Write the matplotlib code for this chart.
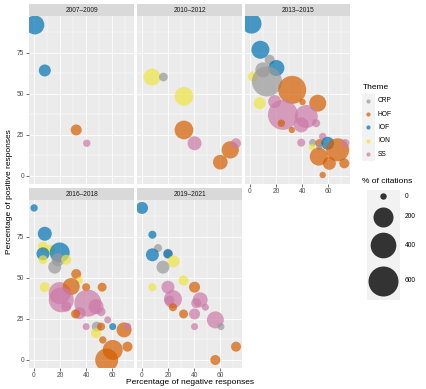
import numpy as np
import matplotlib
matplotlib.use("Agg")
import matplotlib.pyplot as plt
from matplotlib.patches import Rectangle

plt.rcParams['font.family'] = ['Liberation Sans', 'DejaVu Sans']

# ---------------- data ----------------
periods = ["2007–2009", "2010–2012", "2013–2015", "2016–2018", "2019–2021"]
themes = ["CRP", "HOF", "IOF", "ION", "SS"]
theme_colors = ["#999999", "#D55E00", "#0072B2", "#F0E442", "#CC79A7"]
size_breaks = [0, 200, 400, 600]

theme_0709 = ["IOF", "IOF", "HOF", "SS"]
neg_0709 = [0.8, 8.4, 32.4, 40.5]
pos_0709 = [91.9, 64.2, 28, 19.9]
cit_0709 = [171, 34, 23, 1]

theme_1012 = ["ION", "CRP", "ION", "HOF", "SS", "HOF", "HOF", "SS"]
neg_1012 = [7.8, 16.5, 32.2, 32.2, 40.3, 60, 67.6, 72]
pos_1012 = [60.2, 60.2, 48.4, 28, 19.9, 8.4, 15.9, 19.9]
cit_1012 = [121, 6, 163, 163, 62, 74, 128, 14]

theme_1315 = ["IOF", "IOF", "CRP", "IOF", "ION", "CRP", "CRP", "HOF", "ION", "HOF",
              "SS", "SS", "SS", "SS", "SS", "HOF", "HOF", "SS", "CRP", "SS",
              "ION", "HOF", "IOF", "CRP", "HOF", "HOF", "HOF", "HOF", "HOF", "SS", "HOF"]
neg_1315 = [1.3, 8.1, 15.2, 20.3, 2.5, 10, 13.1, 32.4, 7.6, 51.9,
            19, 25.3, 43.1, 39.3, 50.7, 32.1, 24.1, 39.3, 48.1, 55.7,
            47.6, 53.2, 59.5, 53.2, 67.1, 52.7, 60.8, 55.7, 72.2, 73, 40.3]
pos_1315 = [92.7, 76.8, 70.7, 65.7, 60.5, 64.6, 57.5, 52.4, 44.3, 44.3,
            45.3, 37.2, 36.2, 31.1, 32.1, 28, 32.1, 20.3, 20.3, 24,
            17.5, 20, 19.9, 17.9, 15.9, 11.8, 7.7, 0.6, 7.7, 20, 45]
cit_1315 = [199, 145, 14, 100, 14, 80, 600, 503, 34, 121,
            47, 600, 297, 80, 3, 0, 1, 3, 1, 1,
            0, 3, 47, 0, 297, 145, 47, 0, 14, 3, 0]

theme_1618 = ["IOF", "IOF", "ION", "ION", "IOF", "ION", "IOF", "CRP", "ION", "CRP",
              "ION", "HOF", "ION", "SS", "HOF", "SS", "SS", "HOF", "HOF", "SS",
              "SS", "HOF", "SS", "SS", "SS", "CRP", "ION", "HOF", "SS", "IOF",
              "HOF", "SS", "HOF", "HOF", "HOF", "HOF"]
neg_1618 = [0.2, 8.4, 7, 12.2, 7, 7, 19.8, 18.5, 24.8, 16,
            8.4, 32.4, 34.9, 19.8, 28.6, 21, 24.8, 40, 52.2, 41.3,
            35, 31.9, 47.6, 51.4, 40, 48.1, 47.6, 51.4, 56.5, 60.3,
            69, 71.6, 60.3, 55.7, 71.6, 52.7]
pos_1618 = [92.5, 76.8, 69, 67, 64.6, 61, 65.4, 61, 61, 56.5,
            44.3, 52.3, 48.5, 40.7, 44.7, 36.6, 32.5, 44.3, 44.3, 34.6,
            28.5, 28, 32.5, 29.4, 20.3, 20.3, 16.3, 20.3, 24.4, 20.3,
            18.3, 20.3, 6.1, 0, 8.1, 12.2]
cit_1618 = [1, 62, 14, 14, 47, 7, 199, 47, 14, 47,
            14, 14, 0.4, 262, 121, 373, 14, 3, 7, 457,
            34, 7, 80, 7, 0.4, 14, 14, 3, 0.4, 0.4,
            80, 1, 199, 297, 14, 1]

theme_1921 = ["IOF", "IOF", "CRP", "IOF", "CRP", "IOF", "ION", "CRP", "ION", "ION",
              "SS", "HOF", "SS", "SS", "HOF", "SS", "SS", "SS", "HOF", "SS",
              "SS", "SS", "CRP", "HOF", "HOF"]
neg_1921 = [0.2, 8.1, 12.4, 8.1, 20, 20, 24.3, 16.2, 31.9, 8.1,
            20, 40.3, 23.8, 21.2, 23.8, 44.6, 41.6, 48.6, 31.9, 40.3,
            40.3, 56.2, 60.5, 72, 56.2]
pos_1921 = [92.5, 76.2, 68.1, 64, 64.6, 64.6, 60, 56.5, 48.4, 44.3,
            44.3, 44.3, 37, 36.2, 32.1, 36.6, 34.6, 32.1, 28, 28,
            20.3, 24.4, 20.3, 8.1, 0]
cit_1921 = [34, 3, 3, 47, 14, 7, 34, 47, 14, 3,
            47, 23, 145, 14, 3, 80, 14, 0.4, 7, 23,
            0.4, 121, 0.4, 14, 14]

panels = [
    (theme_0709, neg_0709, pos_0709, cit_0709),
    (theme_1012, neg_1012, pos_1012, cit_1012),
    (theme_1315, neg_1315, pos_1315, cit_1315),
    (theme_1618, neg_1618, pos_1618, cit_1618),
    (theme_1921, neg_1921, pos_1921, cit_1921),
]

# ---------------- scales ----------------
W, H = 427, 389
DPI = 100
cmap = dict(zip(themes, theme_colors))
ALPHA = 0.7


def diam_px(v):
    v = np.asarray(v, dtype=float)
    return 6.4 + 23.6 * np.sqrt(np.clip(v, 0, None) / 600.0)


def s_pts(v):
    return (diam_px(v) * 72.0 / DPI) ** 2


all_neg = np.concatenate([p[1] for p in panels])
all_pos = np.concatenate([p[2] for p in panels])
xr = all_neg.max() - all_neg.min()
yr = all_pos.max() - all_pos.min()
xlim = (all_neg.min() - 0.05 * xr, all_neg.max() + 0.05 * xr)
ylim = (all_pos.min() - 0.05 * yr, all_pos.max() + 0.05 * yr)

fig = plt.figure(figsize=(W / DPI, H / DPI), dpi=DPI)
fig.patch.set_facecolor("white")

col_x0 = [29.3, 137.3, 245.3]
pw = 104.8
row_top = [16.0, 200.0]
ph = 167.6
strip_h = 12.0

TICK_FS = 4.8
STRIP_FS = 4.8
TITLE_FS = 6.0

for i, (th, neg, pos, cit) in enumerate(panels):
    r, c = divmod(i, 3)
    x0 = col_x0[c]
    top = row_top[r]
    ax = fig.add_axes([x0 / W, 1 - (top + ph) / H, pw / W, ph / H])
    ax.set_facecolor("#EBEBEB")
    ax.set_xlim(*xlim)
    ax.set_ylim(*ylim)
    for sp in ax.spines.values():
        sp.set_visible(False)
    # grid
    for xv in [10, 30, 50, 70]:
        ax.axvline(xv, color="white", lw=0.3, zorder=0)
    for yv in [12.5, 37.5, 62.5, 87.5]:
        ax.axhline(yv, color="white", lw=0.3, zorder=0)
    for xv in [0, 20, 40, 60]:
        ax.axvline(xv, color="white", lw=0.6, zorder=0)
    for yv in [0, 25, 50, 75]:
        ax.axhline(yv, color="white", lw=0.6, zorder=0)
    cols = [cmap[t] for t in th]
    ax.scatter(neg, pos, s=s_pts(cit), c=cols, alpha=ALPHA, linewidths=0, zorder=2)

    ax.set_xticks([0, 20, 40, 60])
    ax.set_yticks([0, 25, 50, 75])
    show_x = (r == 1) or (i == 2)
    show_y = (c == 0)
    ax.tick_params(axis="x", length=2.0 if show_x else 0, width=0.5, color="#333333",
                   labelsize=TICK_FS, labelcolor="#4D4D4D", pad=1.5,
                   labelbottom=show_x)
    ax.tick_params(axis="y", length=2.0 if show_y else 0, width=0.5, color="#333333",
                   labelsize=TICK_FS, labelcolor="#4D4D4D", pad=1.5,
                   labelleft=show_y)
    # strip
    sh = strip_h / ph
    ax.add_patch(Rectangle((0, 1), 1, sh, transform=ax.transAxes, facecolor="#D9D9D9",
                           edgecolor="none", clip_on=False))
    ax.text(0.5, 1 + sh / 2, periods[i], transform=ax.transAxes, ha="center", va="center",
            fontsize=STRIP_FS, color="#1A1A1A")

# axis titles
fig.text(189.7 / W, 1 - 382.5 / H, "Percentage of negative responses", ha="center", va="center",
         fontsize=TITLE_FS, color="black")
fig.text(9.5 / W, 1 - 192 / H, "Percentage of positive responses", ha="center", va="center",
         rotation=90, fontsize=TITLE_FS, color="black")

# ---------------- legends (pixel overlay) ----------------
lg = fig.add_axes([0, 0, 1, 1], zorder=10)
lg.set_xlim(0, W)
lg.set_ylim(H, 0)
lg.axis("off")

lg.text(362.5, 87, "Theme", fontsize=TITLE_FS, va="center", ha="left", color="black")
key_y = [100.7, 114.0, 127.3, 140.6, 154.0]
lg.add_patch(Rectangle((362, 94), 13, 66.5, facecolor="#F2F2F2", edgecolor="none"))
for t, col, ky in zip(themes, theme_colors, key_y):
    lg.scatter([368.5], [ky], s=(4.2 * 0.72) ** 2, c=[col], alpha=ALPHA, linewidths=0)
    lg.text(378, ky, t, fontsize=TICK_FS, va="center", ha="left", color="black")

lg.text(362.5, 181, "% of citations", fontsize=TITLE_FS, va="center", ha="left", color="black")
size_y = [196, 216.5, 245, 281]
lg.add_patch(Rectangle((367, 190), 33.5, 110, facecolor="#F2F2F2", edgecolor="none"))
for v, ky in zip(size_breaks, size_y):
    lg.scatter([383.5], [ky], s=s_pts([v]), c="#333333", linewidths=0)
    lg.text(405, ky, str(v), fontsize=TICK_FS, va="center", ha="left", color="black")

fig.savefig("out.png", dpi=DPI)
